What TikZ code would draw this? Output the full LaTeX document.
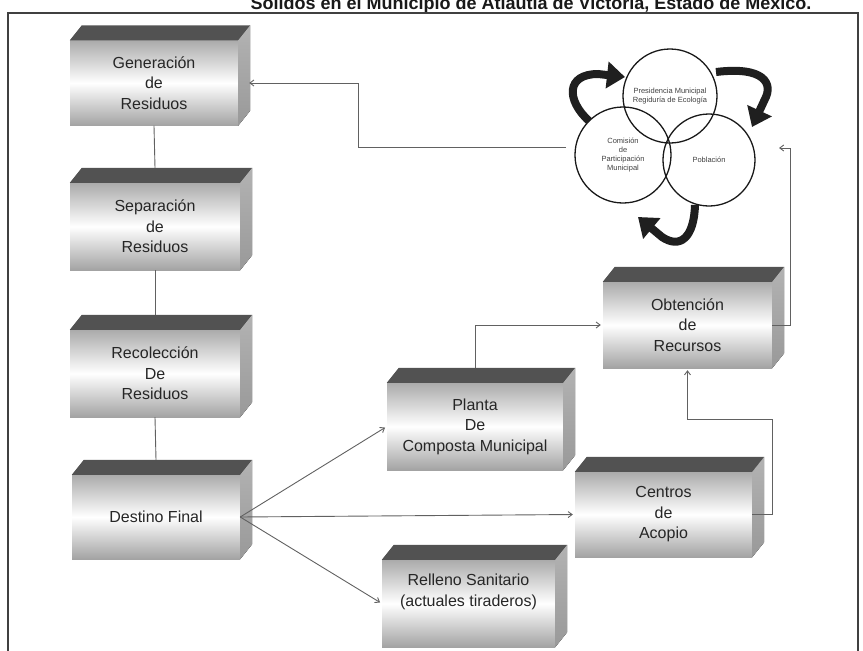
\documentclass[tikz,border=0pt]{standalone}
\usepackage{fontspec}
\setmainfont{Liberation Sans}
\usetikzlibrary{calc,arrows.meta}
\tikzset{
  cube/.style={shade, top color=black!33, bottom color=black!36, middle color=white,
    text=black!85, align=center, inner sep=0pt, font=\fontsize{16}{20.5}\selectfont},
  topface/.style={fill=black!68},
  sideface/.style={top color=black!30, bottom color=black!40},
  conn/.style={draw=black!62, line width=0.9pt},
  arr/.style={conn, -{Straight Barb[length=4pt,width=6pt]}, shorten >=2pt},
  circ/.style={circle, draw=black!90, line width=1.3pt, inner sep=0pt, align=center,
    font=\fontsize{7.5}{9.3}\selectfont, text=black!75},
  bigarrow/.style={draw=black!88, line width=8pt, -{Triangle[length=18pt,width=26pt]}},
  frame/.style={draw=black!75, line width=1.4pt},
  titlefont/.style={font=\fontsize{18}{20}\selectfont\bfseries, text=black!90}
}
\newcommand\cubefaces[1]{%
  \fill[topface] (#1.north west) -- ++(12,-15) -- ($(#1.north east)+(12,-15)$) -- (#1.north east) -- cycle;
  \fill[sideface] (#1.north east) -- ++(12,-15) -- ($(#1.south east)+(12,-15)$) -- (#1.south east) -- cycle;
}
\begin{document}
\begin{tikzpicture}[x=1pt,y=-1pt]
\useasboundingbox (0,0) rectangle (863,651);
\clip (0,0) rectangle (863,651);

% title (cut by the top edge, as in the reference)
\node[titlefont, anchor=base] (title) at (531,9) {Solidos en el Municipio de Atlautla de Victoria, Estado de México.};

% frame
\draw[frame] (8,670) -- (8,13) -- (858,13) -- (858,670);

% boxes
\node[cube, minimum width=168pt, minimum height=85pt] (gen) at (154,83) {Generación\\de\\Residuos};
\node[cube, minimum width=170pt, minimum height=87pt] (sep) at (155,226.5) {Separación\\de\\Residuos};
\node[cube, minimum width=170pt, minimum height=87pt] (rec) at (155,373.5) {Recolección\\De\\Residuos};
\node[cube, minimum width=168pt, minimum height=84pt] (des) at (156,517) {Destino Final};
\node[cube, minimum width=176pt, minimum height=87pt] (pla) at (475,426.5) {Planta\\De\\Composta Municipal};
\node[cube, minimum width=169pt, minimum height=86pt] (obt) at (687.5,325) {Obtención\\de\\Recursos};
\node[cube, minimum width=177pt, minimum height=85pt] (cen) at (663.5,514.5) {Centros\\de\\Acopio};
\node[cube, minimum width=173pt, minimum height=87pt] (rel) at (468.5,603.5) {Relleno Sanitario\\(actuales tiraderos)\\\strut};
\cubefaces{gen}
\cubefaces{sep}
\cubefaces{rec}
\cubefaces{des}
\cubefaces{pla}
\cubefaces{obt}
\cubefaces{cen}
\cubefaces{rel}

% circles
\node[circ, minimum size=94pt] (pres) at (670,96) {Presidencia Municipal\\Regiduría de Ecología};
\node[circ, minimum size=96pt] (com) at (623,155) {Comisión\\de\\Participación\\Municipal};
\node[circ, minimum size=92pt] (pob) at (709,160) {Población};

% thick cycle arrows
\draw[bigarrow] (589,121) .. controls (566,100) and (566,74) .. (598,74) -- (625,77);
\draw[bigarrow] (716,72) .. controls (765,66) and (773,84) .. (765,99) -- (752,127);
\draw[bigarrow] (695,205) .. controls (694,238) and (680,249) .. (662,237) -- (638,217);

% vertical chain
\draw[conn] (gen.south) -- ($(sep.north)+(0,-15)$);
\draw[conn] (sep.south) -- ($(rec.north)+(0,-15)$);
\draw[conn] (rec.south) -- ($(des.north)+(0,-15)$);

% from Destino Final
\draw[arr] (des.east) -- (pla.west);
\draw[arr] (des.east) -- (cen.west);
\draw[arr] (des.east) -- (rel.west);

% to Obtencion de Recursos
\draw[arr] ($(pla.north)+(0,-15)$) |- (obt.west);
\draw[arr] (cen.east) -- ++(20,0) -- ++(0,-95) -| (obt.south);

% back to the circles
\coordinate (pobin) at (777,148);
\draw[arr] (obt.east) -- ++(18,0) |- (pobin);

% circles to Generacion
\coordinate (comout) at (566,147);
\draw[arr] (comout) -- ++(-208,0) |- ($(gen.east)+(9,0)$);
\end{tikzpicture}
\end{document}
